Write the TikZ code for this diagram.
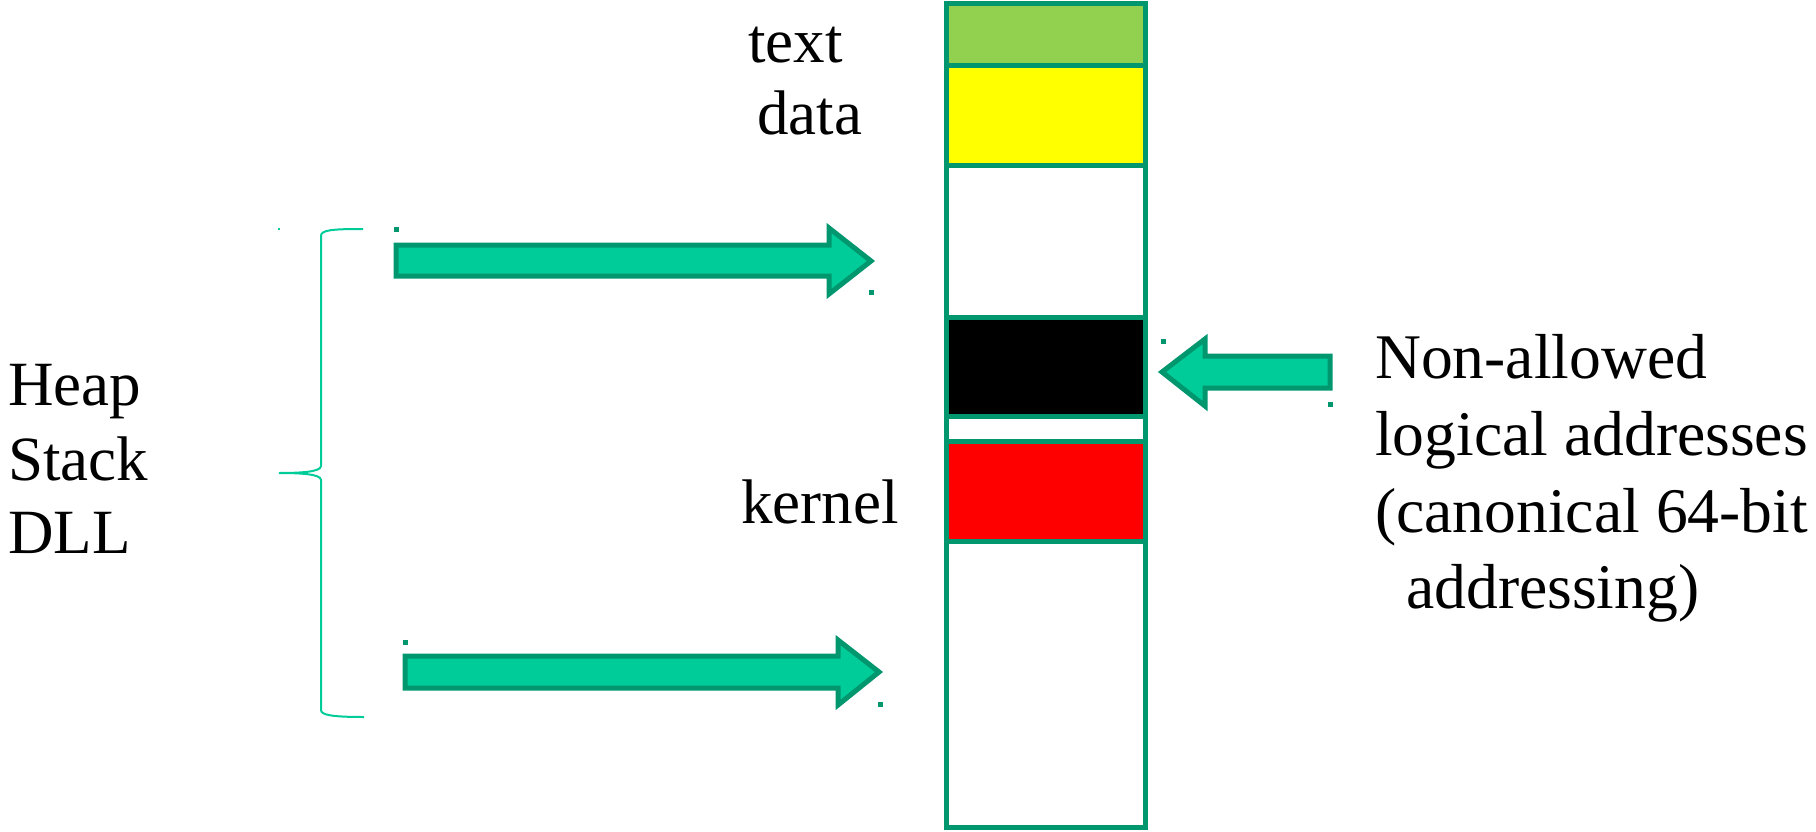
\documentclass[tikz,border=0pt]{standalone}
\usepackage{fontspec}
\setmainfont{Liberation Serif}
\definecolor{edgegreen}{RGB}{0,150,110}
\definecolor{arrowfill}{RGB}{0,204,153}
\definecolor{textgreen}{RGB}{146,208,80}
\definecolor{bracegreen}{RGB}{0,204,153}
\definecolor{pureyellow}{RGB}{255,255,0}
\tikzset{
  seg/.style={draw=edgegreen, line width=5pt, rectangle, inner sep=0pt, minimum width=199pt},
  fatarrow/.style={draw=edgegreen, fill=arrowfill, line width=5pt, line join=miter},
  lbl/.style={anchor=base west, inner sep=0pt, font=\fontsize{63}{77}\selectfont},
  lblr/.style={anchor=base west, inner sep=0pt, font=\fontsize{63.6}{77}\selectfont},
  handle/.style={fill=edgegreen, inner sep=0pt, minimum size=5pt, rectangle}
}
\begin{document}
\begin{tikzpicture}[x=1pt, y=-1pt]
\useasboundingbox (0,0) rectangle (1816,832);
% memory column
\node[seg, fill=white, minimum height=823pt] (col) at (1045.5,415.5) {};
\node[seg, fill=textgreen, minimum height=62pt] (textseg) at (1045.5,35) {};
\node[seg, fill=pureyellow, minimum height=100pt] (dataseg) at (1045.5,116) {};
\node[seg, fill=black, minimum height=99pt] (blackseg) at (1045.5,366.5) {};
\node[seg, fill=red, minimum height=100pt] (kernelseg) at (1045.5,491) {};
% labels
\node[lbl] (ltext) at (748,63) {text};
\node[lbl] (ldata) at (757,135) {data};
\node[lbl] (lkernel) at (741,523) {kernel};
\node[lbl] (lheap) at (8,405) {Heap};
\node[lbl] (lstack) at (8,480) {Stack};
\node[lbl] (ldll) at (8,553) {DLL};
\node[lblr] (lnon1) at (1375,378) {Non-allowed};
\node[lblr] (lnon2) at (1375,455) {logical addresses};
\node[lblr] (lnon3) at (1375,532) {(canonical 64-bit};
\node[lblr] (lnon4) at (1406,608) {addressing)};
% brace
\draw[bracegreen, line width=2pt] (363,229) .. controls (332,229) and (321,230) .. (321,236)
  -- (321,466) .. controls (321,472) and (300,473) .. (279,473)
  .. controls (300,473) and (321,474) .. (321,480)
  -- (321,710) .. controls (321,715) and (332,717) .. (364,717);
\node[fill=bracegreen, inner sep=0pt, minimum size=2.5pt] (bdot) at (279,229) {};
% arrows
\draw[fatarrow] (396,245) -- (829,245) -- (829,228) -- (871,261) -- (829,294) -- (829,276) -- (396,276) -- cycle;
\draw[fatarrow] (405,656) -- (838,656) -- (838,640) -- (879,672) -- (838,705) -- (838,688) -- (405,688) -- cycle;
\draw[fatarrow] (1330,356) -- (1205,356) -- (1205,339) -- (1162,372) -- (1205,406) -- (1205,388) -- (1330,388) -- cycle;
% selection handles
\node[handle] (h1) at (396,229) {};
\node[handle] (h2) at (871,292) {};
\node[handle] (h3) at (405,642) {};
\node[handle] (h4) at (880,704) {};
\node[handle] (h5) at (1163,341) {};
\node[handle] (h6) at (1330,404) {};
\end{tikzpicture}
\end{document}
